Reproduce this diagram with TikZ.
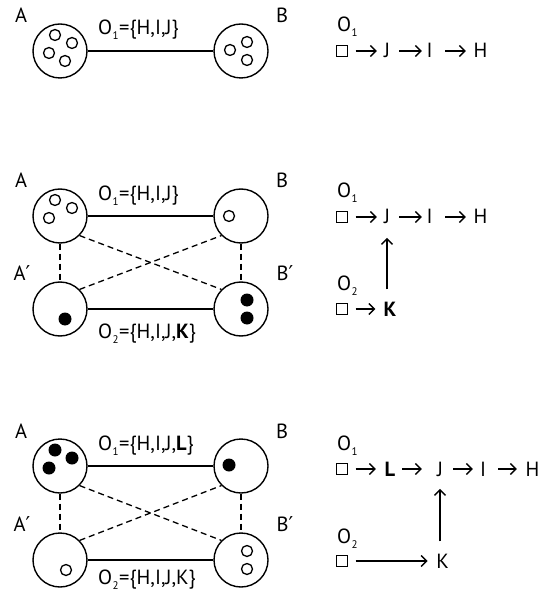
\documentclass[tikz,border=0pt]{standalone}
\usepackage{fontspec}
\setmainfont{PT Sans}
\newfontfamily\symfont{DejaVu Sans}
\usetikzlibrary{arrows.meta}

\tikzset{
  cell/.style={circle, draw, line width=1.4pt, minimum size=54pt, inner sep=0pt},
  hollowdot/.style={line width=1.3pt},
  link/.style={line width=1.4pt},
  dlink/.style={line width=1.3pt, dash pattern=on 6pt off 4pt},
  tag/.style={anchor=base, inner sep=0pt},
  setlabel/.style={anchor=base west, inner sep=0pt},
  letter/.style={anchor=base, inner sep=0pt, minimum width=12pt},
  sq/.style={draw, line width=1.3pt, minimum size=11pt, inner sep=0pt},
  arr/.style={line width=1.4pt, -{Straight Barb[length=5.5pt,width=11pt]}},
}
\newcommand{\pr}{{\symfont ′}}
\newcommand{\idx}[1]{\kern0.5pt\raisebox{-5pt}{\fontsize{11pt}{11pt}\selectfont #1}\kern0.5pt}

\begin{document}
\begin{tikzpicture}[x=1pt, y=-1pt, font=\fontsize{20.5pt}{24pt}\selectfont]
\useasboundingbox (0,0) rectangle (547,593);

% ---------------- first stage: one link A--B ----------------
\node[cell] (A1) at (60,51) {};
\node[cell] (B1) at (241,51) {};
\draw[link] (A1) -- (B1);
\foreach \dx/\dy in {-5/-16, 12/-8, -11/2, 5/10}
  \draw[hollowdot] ([shift={(\dx,\dy)}]A1.center) circle[radius=5.5];
\foreach \dx/\dy in {-11/-1, 6/-9, 6/9}
  \draw[hollowdot] ([shift={(\dx,\dy)}]B1.center) circle[radius=5.5];
\node[tag] (lA1) at (21,23) {A};
\node[tag] (lB1) at (282,23) {B};
\node[setlabel] (s1) at (98,35) {O\idx{1}=\{H,I,J\}};

\node[setlabel] (r1o) at (337,32) {O\idx{1}};
\node[sq] (r1s) at (342,51) {};
\node[letter] (r1J) at (387,58) {J};
\node[letter] (r1I) at (429.5,58) {I};
\node[letter] (r1H) at (480.5,58) {H};
\draw[arr, shorten <=7.5pt, shorten >=4pt] (r1s.east) -- (r1s.east -| r1J.west);
\draw[arr, shorten <=6pt, shorten >=1.5pt] (r1s.east -| r1J.east) -- (r1s.east -| r1I.west);
\draw[arr, shorten <=9.5pt, shorten >=7.5pt] (r1s.east -| r1I.east) -- (r1s.east -| r1H.west);

% ---------------- second stage: K added on O2 ----------------
\node[cell] (A2) at (60,216) {};
\node[cell] (B2) at (241,216) {};
\node[cell] (A2p) at (60,309) {};
\node[cell] (B2p) at (241,309) {};
\draw[link] (A2) -- (B2);
\draw[link] (A2p) -- (B2p);
\draw[dlink] (A2) -- (A2p);
\draw[dlink] (B2) -- (B2p);
\draw[dlink] (A2.south east) -- (B2p.north west);
\draw[dlink] (A2p.north east) -- (B2.south west);
\foreach \dx/\dy in {-5/-16, 12/-8, -11/2}
  \draw[hollowdot] ([shift={(\dx,\dy)}]A2.center) circle[radius=5.5];
\draw[hollowdot] ([shift={(-12,0)}]B2.center) circle[radius=5.5];
\fill ([shift={(5,10)}]A2p.center) circle[radius=6.5];
\foreach \dx/\dy in {6/-9, 6/9}
  \fill ([shift={(\dx,\dy)}]B2p.center) circle[radius=6.5];
\node[tag] (lA2) at (21,188) {A};
\node[tag] (lB2) at (282,188) {B};
\node[tag] (lA2p) at (22,280) {A\pr};
\node[tag] (lB2p) at (285,280) {B\pr};
\node[setlabel] (s2a) at (98,201) {O\idx{1}=\{H,I,J\}};
\node[setlabel] (s2b) at (98,338) {O\idx{2}=\{H,I,J,\textbf{K}\}};

\node[setlabel] (r2o) at (337,198) {O\idx{1}};
\node[sq] (r2s) at (342,217) {};
\node[letter] (r2J) at (387,224) {J};
\node[letter] (r2I) at (429.5,224) {I};
\node[letter] (r2H) at (480.5,224) {H};
\draw[arr, shorten <=7.5pt, shorten >=4pt] (r2s.east) -- (r2s.east -| r2J.west);
\draw[arr, shorten <=6pt, shorten >=1.5pt] (r2s.east -| r2J.east) -- (r2s.east -| r2I.west);
\draw[arr, shorten <=9.5pt, shorten >=7.5pt] (r2s.east -| r2I.east) -- (r2s.east -| r2H.west);
\node[setlabel] (r2o2) at (337,290) {O\idx{2}};
\node[sq] (r2t) at (342,309) {};
\node[letter] (r2K) at (390,316) {\textbf{K}};
\draw[arr, shorten <=7.5pt, shorten >=8pt] (r2t.east) -- (r2t.east -| r2K.west);
\draw[arr, shorten <=12pt, shorten >=13.5pt] (r2J.south |- r2K.north) -- (r2J.south);

% ---------------- third stage: L added on O1 ----------------
\node[cell] (A3) at (60,466) {};
\node[cell] (B3) at (241,466) {};
\node[cell] (A3p) at (60,560) {};
\node[cell] (B3p) at (241,560) {};
\draw[link] (A3) -- (B3);
\draw[link] (A3p) -- (B3p);
\draw[dlink] (A3) -- (A3p);
\draw[dlink] (B3) -- (B3p);
\draw[dlink] (A3.south east) -- (B3p.north west);
\draw[dlink] (A3p.north east) -- (B3.south west);
\foreach \dx/\dy in {-5/-16, 12/-8, -11/2}
  \fill ([shift={(\dx,\dy)}]A3.center) circle[radius=6.5];
\fill ([shift={(-12,-1)}]B3.center) circle[radius=6.5];
\draw[hollowdot] ([shift={(6,10)}]A3p.center) circle[radius=5.5];
\foreach \dx/\dy in {6/-9, 6/9}
  \draw[hollowdot] ([shift={(\dx,\dy)}]B3p.center) circle[radius=5.5];
\node[tag] (lA3) at (21,438) {A};
\node[tag] (lB3) at (282,438) {B};
\node[tag] (lA3p) at (22,531) {A\pr};
\node[tag] (lB3p) at (285,531) {B\pr};
\node[setlabel] (s3a) at (98,450) {O\idx{1}=\{H,I,J,\textbf{L}\}};
\node[setlabel] (s3b) at (98,584) {O\idx{2}=\{H,I,J,K\}};

\node[setlabel] (r3o) at (337,450) {O\idx{1}};
\node[sq] (r3s) at (342,469) {};
\node[letter] (r3L) at (390,476) {\textbf{L}};
\node[letter] (r3J) at (440,476) {J};
\node[letter] (r3I) at (483,476) {I};
\node[letter] (r3H) at (532.5,476) {H};
\draw[arr, shorten <=7.5pt, shorten >=8pt] (r3s.east) -- (r3s.east -| r3L.west);
\draw[arr, shorten <=6pt, shorten >=12pt] (r3s.east -| r3L.east) -- (r3s.east -| r3J.west);
\draw[arr, shorten <=7pt, shorten >=4pt] (r3s.east -| r3J.east) -- (r3s.east -| r3I.west);
\draw[arr, shorten <=9pt, shorten >=8.5pt] (r3s.east -| r3I.east) -- (r3s.east -| r3H.west);
\node[setlabel] (r3o2) at (337,543) {O\idx{2}};
\node[sq] (r3t) at (342,561) {};
\node[letter] (r3K) at (442.5,568) {K};
\draw[arr, shorten <=7.5pt, shorten >=8.5pt] (r3t.east) -- (r3t.east -| r3K.west);
\draw[arr, shorten <=12pt, shorten >=12.5pt] (r3J.south |- r3K.north) -- (r3J.south);
\end{tikzpicture}
\end{document}
